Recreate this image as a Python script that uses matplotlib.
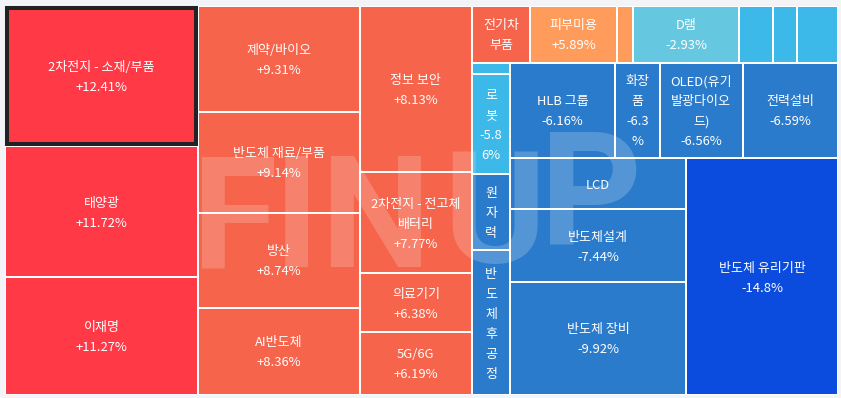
import matplotlib
matplotlib.use('Agg')
import matplotlib.pyplot as plt
from matplotlib.patches import Rectangle
from matplotlib.font_manager import FontProperties

# sectors in the order the treemap receives them (None = label not readable)
names = ['2차전지 - 소재/부품', '태양광', '이재명',
         '제약/바이오', '반도체 재료/부품', '방산', 'AI반도체',
         '정보 보안', '2차전지 - 전고체 배터리', '의료기기', '5G/6G',
         '전기차 부품', '피부미용', None, 'D램', None, None, None,
         None, '로봇', '원자력', '반도체 후공정',
         'HLB 그룹', '화장품', 'OLED(유기발광다이오드)', '전력설비',
         'LCD', '반도체설계', '반도체 장비', '반도체 유리기판']
# daily change in % (hidden ones estimated from colour / order)
changes = [12.41, 11.72, 11.27,
           9.31, 9.14, 8.74, 8.36,
           8.13, 7.77, 6.38, 6.19,
           6.05, 5.89, 3.2, -2.93, -3.4, -4.1, -4.8,
           -5.5, -5.86, -6.02, -6.1,
           -6.16, -6.3, -6.56, -6.59,
           -7.1, -7.44, -9.92, -14.8]
# tile size (market weight, read from the tile areas)
sizes = [271, 252, 228,
         171, 163, 153, 141,
         187, 114, 66, 71,
         33, 49, 9, 60, 19, 14, 23,
         4.3, 38, 29, 55,
         100, 43, 79, 91,
         90, 128, 199, 360]
selected = '2차전지 - 소재/부품'

W, H = 841, 398
box = (5, 6, 833, 389)
half_gap = 1
golden = 0.5 * (1 + 5 ** 0.5)


def cell_color(v):
    if v >= 10:
        return '#ff3946'
    if v >= 6:
        return '#f5644b'
    if v >= 3:
        return '#ff9c5b'
    if v >= 0:
        return '#ffc28f'
    if v > -3:
        return '#66c8e0'
    if v > -6:
        return '#3cb9e8'
    if v > -10:
        return '#2a7bcb'
    return '#0b4cde'


# echarts style squarify (golden ratio target, order kept)
def worst(row_areas, fixed, ratio):
    s = sum(row_areas)
    f = fixed * fixed * ratio
    return max(f * max(row_areas) / (s * s), (s * s) / (f * min(row_areas)))


def place(row, areas, fixed, rect, out, flush):
    horiz = fixed == rect[2]
    s = sum(areas[i] for i in row)
    other = s / fixed
    if flush or other > (rect[3] if horiz else rect[2]):
        other = rect[3] if horiz else rect[2]
    last = rect[0] if horiz else rect[1]
    end = rect[0] + rect[2] if horiz else rect[1] + rect[3]
    for k, i in enumerate(row):
        step = areas[i] / other
        remain = end - last
        mod = remain if (k == len(row) - 1 or remain < step) else step
        if horiz:
            out[i] = (last, rect[1], mod, other)
        else:
            out[i] = (rect[0], last, other, mod)
        last += mod
    if horiz:
        rect[1] += other
        rect[3] -= other
    else:
        rect[0] += other
        rect[2] -= other


def squarify(vals, x, y, w, h):
    total = sum(vals)
    areas = [v / total * w * h for v in vals]
    rect = [x, y, w, h]
    out = [None] * len(vals)
    fixed = min(w, h)
    best = float('inf')
    row = []
    i = 0
    while i < len(areas):
        row.append(i)
        score = worst([areas[j] for j in row], fixed, golden)
        if score <= best:
            i += 1
            best = score
        else:
            row.pop()
            place(row, areas, fixed, rect, out, False)
            fixed = min(rect[2], rect[3])
            row = []
            best = float('inf')
    if row:
        place(row, areas, fixed, rect, out, True)
    return out


tiles = squarify(sizes, *box)

fig = plt.figure(figsize=(W / 100, H / 100), dpi=100)
fig.patch.set_facecolor('#f3f4f8')
ax = fig.add_axes([0, 0, 1, 1])
ax.set_xlim(0, W)
ax.set_ylim(H, 0)
ax.axis('off')
ax.add_patch(Rectangle(box[:2], box[2], box[3], facecolor='white', lw=0))

renderer = fig.canvas.get_renderer()
font = FontProperties(family=['Noto Sans CJK KR', 'DejaVu Sans'], size=9.36)
line_h = 20
pad_x, pad_y = 6.2, 5


def text_w(s):
    # advance width, like a browser measures it (bars cancel the ink bearings)
    full = renderer.get_text_width_height_descent('|' + s + '|', font, ismath=False)[0]
    bars = renderer.get_text_width_height_descent('||', font, ismath=False)[0]
    return full - bars


def wrap(text, width):
    lines = []
    for para in text.split('\n'):
        cur = ''
        for ch in para:
            if cur == '' and ch == ' ':
                continue
            if text_w(cur + ch) <= width:
                cur += ch
            elif cur == '':
                return []
            else:
                lines.append(cur.rstrip())
                cur = '' if ch == ' ' else ch
        lines.append(cur.rstrip())
    return lines


for name, chg, (x, y, w, h) in zip(names, changes, tiles):
    x, y, w, h = x + half_gap, y + half_gap, w - 2 * half_gap, h - 2 * half_gap
    ax.add_patch(Rectangle((x, y), w, h, facecolor=cell_color(chg), lw=0, zorder=1))
    if name == selected:
        ax.add_patch(Rectangle((x + 1, y + 1), w - 2, h - 2, facecolor='none',
                               edgecolor='#222222', lw=2.9, zorder=2))
    if name is None:
        continue
    lines = wrap(f'{name}\n{chg:+g}%', w - 2 * pad_x)
    lines = lines[:int((h - 2 * pad_y) // line_h)]
    cx, cy = x + w / 2, y + h / 2 + 1.5
    for k, ln in enumerate(lines):
        ax.text(cx, cy + (k - (len(lines) - 1) / 2) * line_h, ln, fontproperties=font,
                color='white', ha='center', va='center', zorder=4)

# watermark logo, letter by letter
wm = dict(family='Roboto', weight='bold', color='white', alpha=0.2,
          ha='left', va='baseline', zorder=3)
ax.text(191, 267, 'F', fontsize=112, **wm)
ax.text(274, 267, 'I', fontsize=112, **wm)
ax.text(320, 267, 'N', fontsize=112, **wm)
ax.text(443, 262, 'U', fontsize=112, **wm)
ax.text(540, 245, 'P', fontsize=114, **wm)

fig.savefig('out.png', dpi=100, facecolor=fig.get_facecolor())
